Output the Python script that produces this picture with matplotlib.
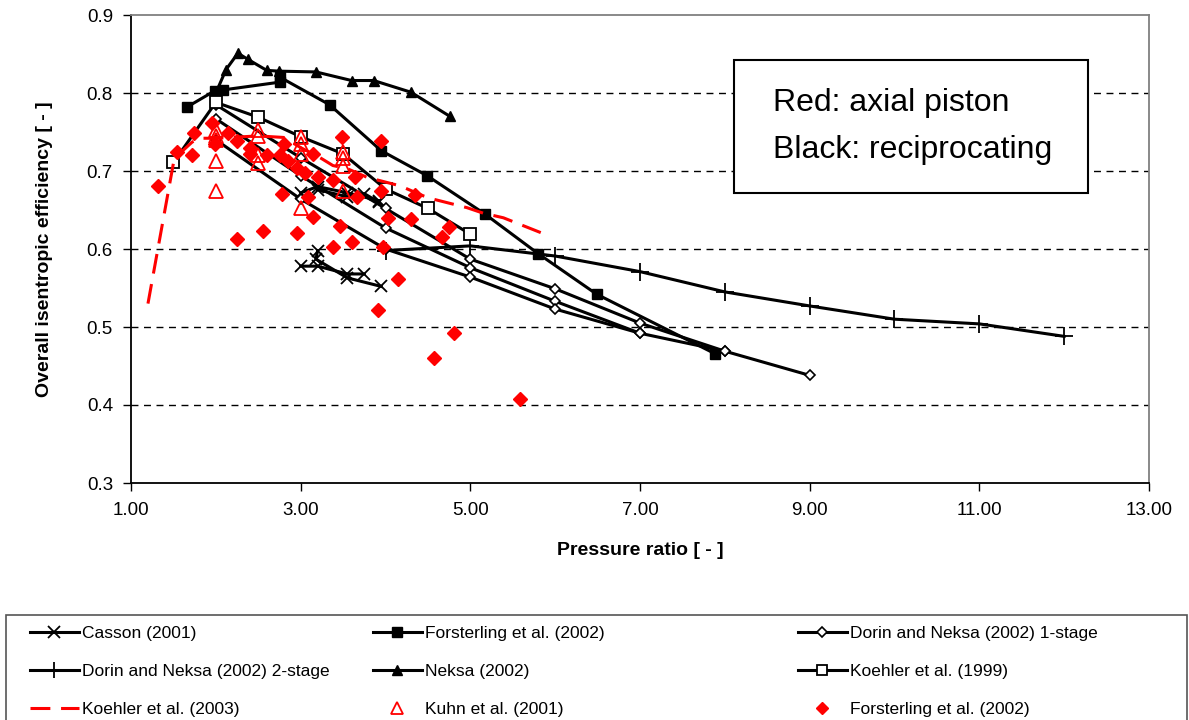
import matplotlib
matplotlib.use("Agg")
import matplotlib.pyplot as plt
from matplotlib.patches import Rectangle

plt.rcParams['font.family'] = ['Liberation Sans', 'DejaVu Sans']

# --- reciprocating compressors (black) ---
casson_x = [[3.0, 3.2, 3.55, 3.92], [3.2, 3.55, 3.75, 3.92],
            [3.0, 3.2, 3.55, 3.75], [3.2, 3.18, 3.55, 3.95]]
casson_y = [[0.672, 0.680, 0.672, 0.662], [0.676, 0.667, 0.671, 0.660],
            [0.578, 0.578, 0.568, 0.568], [0.598, 0.587, 0.563, 0.552]]

forst_x = [1.66, 1.99, 2.09, 2.76, 2.76, 3.34, 3.95, 4.49, 5.17, 5.80, 6.49, 7.88]
forst_y = [0.782, 0.803, 0.804, 0.814, 0.820, 0.785, 0.726, 0.694, 0.645, 0.594, 0.542, 0.466]

dorin1_x = [[2, 3, 4, 5, 6, 7, 8, 9], [2, 3, 4, 5, 6, 7, 8], [2, 3, 4, 5, 6, 7]]
dorin1_y = [[0.785, 0.717, 0.652, 0.587, 0.549, 0.505, 0.469, 0.438],
            [0.767, 0.694, 0.627, 0.576, 0.533, 0.492, 0.469],
            [0.740, 0.664, 0.600, 0.564, 0.523, 0.492]]

dorin2_x = [4, 5, 6, 7, 8, 9, 10, 11, 12]
dorin2_y = [0.598, 0.604, 0.591, 0.571, 0.545, 0.527, 0.510, 0.504, 0.488]

neksa_x = [2.0, 2.12, 2.26, 2.38, 2.60, 2.75, 3.18, 3.60, 3.86, 4.30, 4.76]
neksa_y = [0.800, 0.830, 0.851, 0.843, 0.829, 0.828, 0.827, 0.816, 0.816, 0.801, 0.770]

koehler99_x = [1.5, 2.0, 2.5, 3.0, 3.5, 4.0, 4.5, 5.0]
koehler99_y = [0.711, 0.788, 0.769, 0.744, 0.722, 0.677, 0.652, 0.619]

# --- axial piston compressors (red) ---
koehler03_x = [1.2, 1.5, 1.6, 1.72, 1.81, 2.0, 2.5, 2.8, 3.0, 3.23, 3.38, 3.55,
               3.78, 4.17, 4.45, 4.56, 4.96, 5.15, 5.39, 5.83]
koehler03_y = [0.530, 0.710, 0.725, 0.737, 0.742, 0.742, 0.745, 0.743, 0.730, 0.717,
               0.707, 0.703, 0.692, 0.681, 0.668, 0.664, 0.653, 0.646, 0.640, 0.621]

kuhn_x = [2.0, 2.0, 2.0, 2.0, 2.0, 2.5, 2.5, 2.5, 2.5, 3.0, 3.0, 3.0, 3.0,
          3.5, 3.5, 3.5, 3.5]
kuhn_y = [0.675, 0.713, 0.740, 0.745, 0.752, 0.752, 0.745, 0.720, 0.710,
          0.743, 0.735, 0.722, 0.653, 0.724, 0.717, 0.706, 0.675]

forst_sc_x = [1.32, 1.54, 1.72, 1.74, 1.96, 1.99, 2.14, 2.25, 2.25, 2.40, 2.40, 2.56,
              2.60, 2.76, 2.78, 2.80, 2.85, 2.96, 2.96, 3.05, 3.09, 3.15, 3.15, 3.20,
              3.38, 3.38, 3.46, 3.49, 3.61, 3.64, 3.66, 3.91, 3.95, 3.95, 3.97, 4.03,
              4.15, 4.30, 4.35, 4.57, 4.67, 4.75, 4.81, 5.59]
forst_sc_y = [0.681, 0.724, 0.721, 0.749, 0.762, 0.735, 0.749, 0.739, 0.613, 0.730, 0.722, 0.623,
              0.720, 0.721, 0.670, 0.735, 0.713, 0.704, 0.621, 0.697, 0.667, 0.722, 0.641, 0.692,
              0.688, 0.603, 0.630, 0.744, 0.609, 0.692, 0.667, 0.522, 0.739, 0.674, 0.603, 0.640,
              0.562, 0.638, 0.669, 0.460, 0.616, 0.628, 0.492, 0.408]

x_ticks = [1, 3, 5, 7, 9, 11, 13]
y_ticks = [0.3, 0.4, 0.5, 0.6, 0.7, 0.8, 0.9]

fig = plt.figure(figsize=(11.89, 7.2), dpi=100)
ax = fig.add_axes([131 / 1189, 1 - 483 / 720, 1018 / 1189, 468 / 720])

lw = 2.2
h_casson = None
for xs, ys in zip(casson_x, casson_y):
    h, = ax.plot(xs, ys, color='black', lw=lw, marker='x', ms=9, mew=1.3)
    h_casson = h_casson or h

h_forst, = ax.plot(forst_x, forst_y, color='black', lw=lw, marker='s', ms=7.5)

h_dorin1 = None
for xs, ys in zip(dorin1_x, dorin1_y):
    h, = ax.plot(xs, ys, color='black', lw=lw, marker='D', ms=5.5, mfc='white', mew=1.2)
    h_dorin1 = h_dorin1 or h

h_dorin2, = ax.plot(dorin2_x, dorin2_y, color='black', lw=lw, marker='+', ms=13, mew=1.3)
h_neksa, = ax.plot(neksa_x, neksa_y, color='black', lw=lw, marker='^', ms=7.5)
h_k99, = ax.plot(koehler99_x, koehler99_y, color='black', lw=lw, marker='s', ms=8,
                 mfc='white', mew=1.3)

h_k03, = ax.plot(koehler03_x, koehler03_y, color='red', lw=lw, dashes=(6.5, 3.5))
h_kuhn, = ax.plot(kuhn_x, kuhn_y, ls='none', marker='^', ms=10, mfc='none',
                  mec='red', mew=1.3)
h_fsc, = ax.plot(forst_sc_x, forst_sc_y, ls='none', marker='D', ms=7, color='red')

ax.set_xlim(1, 13)
ax.set_ylim(0.3, 0.9)
ax.set_xticks(x_ticks)
ax.set_xticklabels(['%.2f' % v for v in x_ticks])
ax.set_yticks(y_ticks)
ax.set_yticklabels(['%.1f' % v for v in y_ticks])
ax.tick_params(direction='out', length=6, width=1, labelsize=13.5, pad=8)
ax.tick_params(axis='y', pad=7)

for y in y_ticks[1:-1]:
    ax.axhline(y, color='black', lw=1, dashes=(5, 4), zorder=0)

ax.spines['left'].set_color('black')
ax.spines['bottom'].set_color('black')
ax.spines['top'].set_color('#808080')
ax.spines['right'].set_color('#808080')
for s in ax.spines.values():
    s.set_linewidth(1.3)

ax.set_xlabel('Pressure ratio [ - ]', fontsize=14, fontweight='bold', labelpad=16)
ax.set_ylabel('Overall isentropic efficiency [ - ]', fontsize=14, fontweight='bold',
              labelpad=24)

# note box
ax.add_patch(Rectangle((0.592, 0.620), 0.348, 0.284, transform=ax.transAxes,
                       facecolor='white', edgecolor='black', lw=1.5, zorder=5))
ax.text(0.631, 0.795, 'Red: axial piston', transform=ax.transAxes, fontsize=23,
        va='baseline', zorder=6)
ax.text(0.631, 0.694, 'Black: reciprocating', transform=ax.transAxes, fontsize=23,
        va='baseline', zorder=6)

# legend below the chart, three columns
fig.patches.append(Rectangle((6 / 1189, -0.05), 1181 / 1189, 0.05 + 1 - 615 / 720,
                             transform=fig.transFigure, facecolor='none',
                             edgecolor='#555555', lw=1.2))
columns = [
    (30, [h_casson, h_dorin2, h_k03],
     ['Casson (2001)', 'Dorin and Neksa (2002) 2-stage', 'Koehler et al. (2003)']),
    (373, [h_forst, h_neksa, h_kuhn],
     ['Forsterling et al. (2002)', 'Neksa (2002)', 'Kuhn et al. (2001)']),
    (798, [h_dorin1, h_k99, h_fsc],
     ['Dorin and Neksa (2002) 1-stage', 'Koehler et al. (1999)', 'Forsterling et al. (2002)']),
]
for px, hs, labels in columns:
    fig.legend(hs, labels, loc='upper left', bbox_to_anchor=(px / 1189, 1 - 626 / 720),
               frameon=False, fontsize=12.5, borderpad=0, borderaxespad=0,
               handlelength=2.8, handletextpad=0.2, labelspacing=1.3, markerscale=0.9)

fig.savefig('out.png', dpi=100)
